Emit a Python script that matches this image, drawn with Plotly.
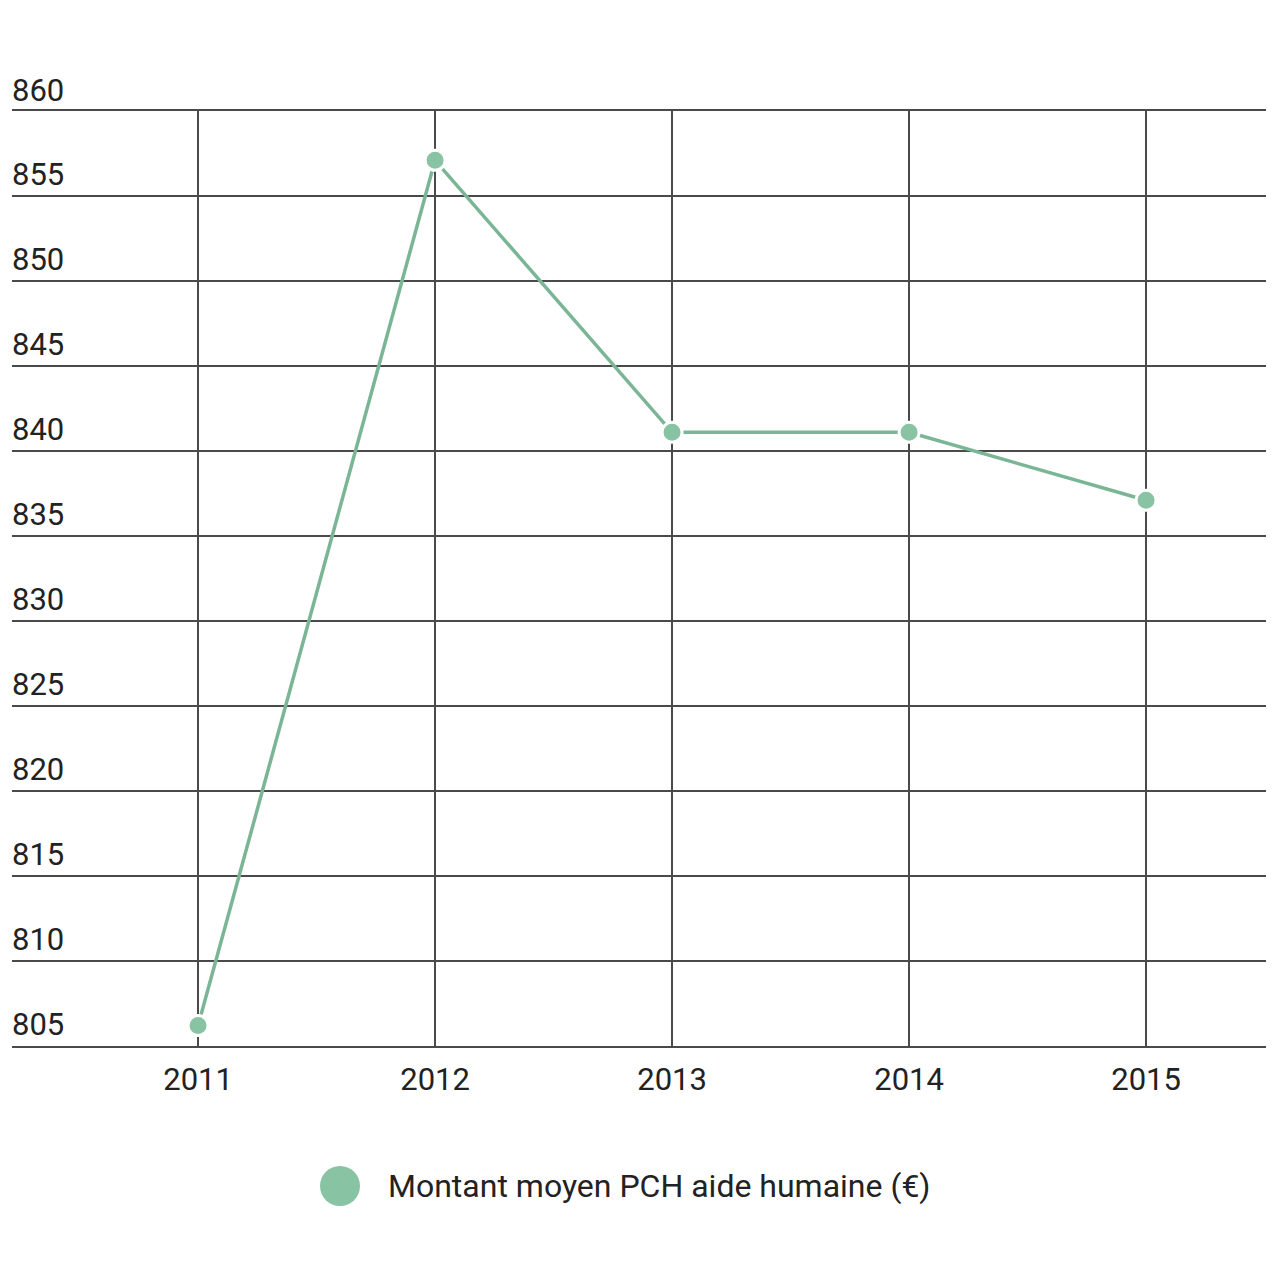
import plotly.graph_objects as go

years = [2011, 2012, 2013, 2014, 2015]
values = [806.2, 857.1, 841.1, 841.1, 837.1]
series_name = "Montant moyen PCH aide humaine (€)"
y_ticks = [805, 810, 815, 820, 825, 830, 835, 840, 845, 850, 855, 860]

line_color = "#7ab596"
marker_color = "#88c3a3"
grid_color = "#4a4a4a"
text_color = "#222222"
font = "Roboto, 'Open Sans', sans-serif"

# page has an 8px body margin; plot area in the picture spans x 12..1266, y 111..1046
L, R_, T, B = 4, 22, 103, 242
plot_w = 1280 - L - R_
plot_h = 1280 - T - B

fig = go.Figure()
fig.add_trace(go.Scatter(
    x=years, y=values, mode="lines+markers", name=series_name,
    line=dict(color=line_color, width=3.5),
    marker=dict(size=20, color=marker_color, line=dict(color="white", width=3)),
    showlegend=False,
))

fig.update_layout(
    width=1280, height=1280,
    margin=dict(l=L, r=R_, t=T, b=B),
    paper_bgcolor="white", plot_bgcolor="white",
    font=dict(family=font, size=31, color=text_color),
    xaxis=dict(
        range=[2010.215, 2015.506], tickvals=years, ticktext=[str(y) for y in years],
        showgrid=True, gridcolor=grid_color, gridwidth=1.5, zeroline=False,
        showline=True, mirror=True, linecolor=grid_color, linewidth=1.5,
        ticks="outside", ticklen=5, tickcolor="rgba(0,0,0,0)",
        tickfont=dict(size=31, color=text_color),
    ),
    yaxis=dict(
        range=[y_ticks[0], y_ticks[-1]], tickvals=y_ticks,
        showgrid=True, gridcolor=grid_color, gridwidth=1.5, zeroline=False,
        showline=False, ticklabelposition="inside top", ticklabelstandoff=-3,
        tickfont=dict(size=31, color=text_color),
    ),
)

# top tick label (plotly hides inside labels that overflow the plot area)
fig.add_annotation(
    text=str(y_ticks[-1]), xref="paper", yref="y", x=0, y=y_ticks[-1],
    xanchor="left", yanchor="bottom", showarrow=False, yshift=0, xshift=-2,
    font=dict(size=31, color=text_color, family=font),
)

# legend
fig.add_shape(
    type="circle", xref="paper", yref="paper",
    xsizemode="pixel", ysizemode="pixel",
    xanchor=(340 - 12) / plot_w, yanchor=(1046 - 1186) / plot_h,
    x0=-20, x1=20, y0=-20, y1=20,
    fillcolor=marker_color, line=dict(width=0),
)
fig.add_annotation(
    text=series_name, xref="paper", yref="paper",
    x=(386 - 12) / plot_w, y=(1046 - 1186) / plot_h,
    xanchor="left", yanchor="middle", showarrow=False,
    font=dict(size=32, color=text_color, family=font),
)

fig.write_html("out.html")
